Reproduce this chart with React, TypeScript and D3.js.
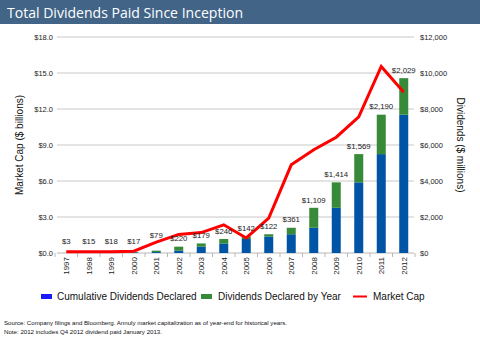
import React from "react";
import * as d3 from "d3";

const years = ["1997","1998","1999","2000","2001","2002","2003","2004","2005","2006","2007","2008","2009","2010","2011","2012"];
// Dividends declared by year ($ millions) - green segment & label
const yearlyDividends = [3, 15, 18, 17, 79, 220, 179, 246, 142, 122, 361, 1109, 1414, 1569, 2190, 2029];
// Cumulative dividends declared before the year ($ millions) - blue segment
const cumulativeDividends = [0, 3, 18, 36, 53, 132, 352, 531, 777, 919, 1041, 1402, 2511, 3925, 5494, 7684];
// Market cap ($ billions)
const marketCap = [0.1, 0.1, 0.1, 0.15, 0.9, 1.55, 1.7, 2.35, 1.25, 2.9, 7.35, 8.6, 9.65, 11.35, 15.55, 13.4];
const leftTicks = [0, 3, 6, 9, 12, 15, 18];
const rightTicks = [0, 2000, 4000, 6000, 8000, 10000, 12000];

const BLUE = "#0054a6";
const GREEN = "#378a37";
const RED = "#ff0000";
const FONT = "'Liberation Sans', Arial, sans-serif";

export default function App() {
  const W = 480, H = 338;
  const top = 37, bottom = 253;
  const x = d3.scaleBand<string>().domain(years).range([55, 415]).paddingInner(0.6).paddingOuter(0.3);
  const yL = d3.scaleLinear().domain([0, 18]).range([bottom, top]);
  const yR = d3.scaleLinear().domain([0, 12000]).range([bottom, top]);
  const bw = x.bandwidth();
  const cx = (y: string) => (x(y) as number) + bw / 2;
  const line = d3.line<number>().x((_, i) => cx(years[i])).y((d) => yL(d));
  const fmtL = (v: number) => "$" + v.toFixed(1);
  const fmtR = (v: number) => "$" + d3.format(",")(v);
  const step = x.step();

  return (
    <svg width={W} height={H} style={{ position: "absolute", left: 0, top: 0, background: "#fff" }} fontFamily={FONT}>
      <rect x={0} y={0} width={W} height={H} fill="#fff" />
      <rect x={0} y={0} width={W} height={24} fill="#416487" />
      <text x={7} y={17.5} fill="#fff" fontSize={15} fontFamily="'Open Sans', sans-serif" textLength={236} lengthAdjust="spacingAndGlyphs">Total Dividends Paid Since Inception</text>

      {/* gridlines */}
      {leftTicks.map((t) => (
        <line key={"g" + t} x1={57} x2={414} y1={yL(t)} y2={yL(t)} stroke={t === 0 ? "#b8b8b8" : "#c8c8c8"} strokeWidth={1} />
      ))}
      {/* x ticks */}
      {d3.range(years.length + 1).map((i) => (
        <line key={"xt" + i} x1={55 + i * step} x2={55 + i * step} y1={bottom} y2={bottom + 4} stroke="#b8b8b8" />
      ))}
      {/* left tick labels */}
      {leftTicks.map((t) => (
        <text key={"l" + t} x={53} y={yL(t)} dy="0.35em" textAnchor="end" fontSize={7.5} fill="#222">{fmtL(t)}</text>
      ))}
      {rightTicks.map((t) => (
        <text key={"r" + t} x={420} y={yR(t)} dy="0.35em" textAnchor="start" fontSize={7.5} fill="#222">{fmtR(t)}</text>
      ))}
      {/* axis titles */}
      <text transform={`translate(23,${(top + bottom) / 2}) rotate(-90)`} textAnchor="middle" fontSize={10} fill="#111">Market Cap ($ billions)</text>
      <text transform={`translate(457,${(top + bottom) / 2}) rotate(90)`} textAnchor="middle" fontSize={10} fill="#111">Dividends ($ millions)</text>

      {/* bars */}
      {years.map((yr, i) => {
        const c = cumulativeDividends[i];
        const d = yearlyDividends[i];
        return (
          <g key={"b" + yr}>
            <rect x={x(yr)} y={yR(c)} width={bw} height={yR(0) - yR(c)} fill={BLUE} />
            <rect x={x(yr)} y={yR(c + d)} width={bw} height={yR(c) - yR(c + d)} fill={GREEN} />
          </g>
        );
      })}
      {/* market cap line */}
      <path d={line(marketCap) || ""} fill="none" stroke={RED} strokeWidth={3} strokeLinejoin="miter" />
      {/* bar labels */}
      {years.map((yr, i) => {
        const topY = yR(cumulativeDividends[i] + yearlyDividends[i]);
        const lineY = yL(marketCap[i]);
        let ly = Math.min(topY - 8, bottom - 12);
        const diff = lineY - ly;
        if (diff > -2 && diff < 6) ly = lineY - 7;
        return (
          <text key={"bl" + yr} x={cx(yr)} y={ly} dy="0.35em" textAnchor="middle" fontSize={7.8} fill="#222">{"$" + d3.format(",")(yearlyDividends[i])}</text>
        );
      })}
      {/* x labels */}
      {years.map((yr) => (
        <text key={"xl" + yr} transform={`translate(${cx(yr)},${bottom + 4}) rotate(-90)`} textAnchor="end" dy="0.35em" fontSize={8} fill="#222">{yr}</text>
      ))}

      {/* legend */}
      <rect x={41} y={294} width={11} height={5} fill="#1a1aff" />
      <text x={57} y={296.5} dy="0.35em" fontSize={10} fill="#111">Cumulative Dividends Declared</text>
      <rect x={201} y={294} width={11} height={5} fill={GREEN} />
      <text x={218} y={296.5} dy="0.35em" fontSize={10} fill="#111">Dividends Declared by Year</text>
      <line x1={353} x2={367} y1={296.5} y2={296.5} stroke={RED} strokeWidth={2} />
      <text x={373} y={296.5} dy="0.35em" fontSize={10} fill="#111">Market Cap</text>

      {/* footnotes */}
      <text x={4} y={322.5} dy="0.35em" fontSize={6} fill="#111" textLength={283} lengthAdjust="spacingAndGlyphs">Source: Company filings and Bloomberg. Annuly market capitalization as of year-end for historical years.</text>
      <text x={4} y={332} dy="0.35em" fontSize={6} fill="#111" textLength={158} lengthAdjust="spacingAndGlyphs">Note: 2012 includes Q4 2012 dividend paid January 2013.</text>
    </svg>
  );
}
